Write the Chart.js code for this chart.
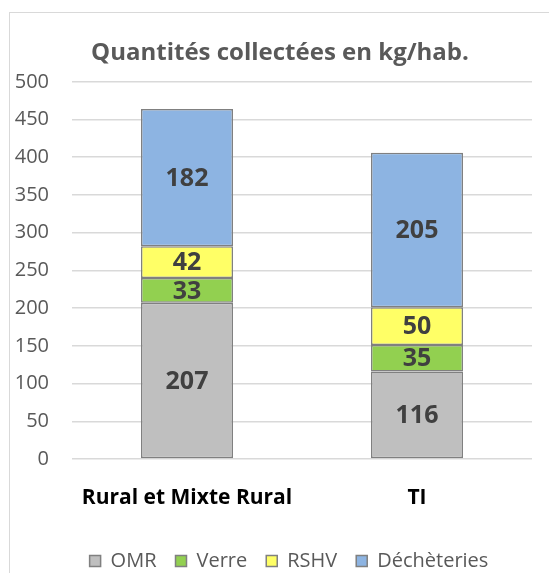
<!DOCTYPE html>
<html>
<head>
<meta charset="utf-8">
<script src="https://cdn.jsdelivr.net/npm/chart.js@4"></script>
<style>
  html, body { margin: 0; padding: 0; background: #fff; }
  #wrap { position: relative; width: 549px; height: 573px; overflow: hidden; }
  #frame { position: absolute; left: 9px; top: 12px; width: 600px; height: 600px;
           border-left: 1.5px solid #d9d9d9; border-top: 1.5px solid #d9d9d9; }
  canvas { position: absolute; left: 0; top: 0; }
</style>
</head>
<body>
<div id="wrap">
  <div id="frame"></div>
  <canvas id="chart" width="549" height="573"></canvas>
</div>
<script>
/* Quantités collectées en kg/hab. — stacked bars */
const categories = ['Rural et Mixte Rural', 'TI'];
const omr = [207, 116];
const verre = [33, 35];
const rshv = [42, 50];
const decheteries = [182, 205];
const yTicks = [0, 50, 100, 150, 200, 250, 300, 350, 400, 450, 500];

const FONT = '"Open Sans", "Noto Sans", sans-serif';
const EDGE = '#808080';

// labels drawn in the middle of each segment
const segLabels = {
  id: 'segLabels',
  afterDatasetsDraw(chart) {
    const ctx = chart.ctx;
    ctx.save();
    ctx.font = 'bold 25px ' + FONT;
    ctx.fillStyle = '#404040';
    ctx.textAlign = 'center';
    ctx.textBaseline = 'middle';
    chart.data.datasets.forEach((ds, i) => {
      chart.getDatasetMeta(i).data.forEach((bar, j) => {
        const p = bar.getProps(['x', 'y', 'base'], true);
        ctx.fillText(String(ds.data[j]), p.x, (p.y + p.base) / 2 + 1);
      });
    });
    ctx.restore();
  }
};

// title / legend are centred on the whole frame, not on the plot
const frameLayout = {
  id: 'frameLayout',
  beforeLayout(chart) {
    const lg = chart.legend;
    if (lg && !lg._fixed) {
      const fit = lg.fit.bind(lg);
      lg.fit = function () { fit(); this.height = 41; };
      lg._fixed = true;
    }
  },
  afterLayout(chart) {
    if (chart.titleBlock) { chart.titleBlock.left = 11; chart.titleBlock.right = 549; }
    if (chart.legend) { chart.legend.left = 29; chart.legend.right = 549; }
  }
};

function ds(label, data, color) {
  return { label, data, backgroundColor: color, borderColor: EDGE, borderWidth: 1.5,
           borderSkipped: false, barPercentage: 0.4, categoryPercentage: 1 };
}

new Chart(document.getElementById('chart').getContext('2d'), {
  type: 'bar',
  data: {
    labels: categories,
    datasets: [
      ds('OMR', omr, '#BFBFBF'),
      ds('Verre', verre, '#92D050'),
      ds('RSHV', rshv, '#FFFF66'),
      ds('Déchèteries', decheteries, '#8DB4E2')
    ]
  },
  plugins: [segLabels, frameLayout],
  options: {
    responsive: false, animation: false,
    layout: { padding: { left: 0, right: 17, top: 0, bottom: 0 } },
    plugins: {
      title: { display: true, text: 'Quantités collectées en kg/hab.', color: '#595959',
               font: { family: FONT, size: 24, weight: 'bold' }, padding: { top: 39, bottom: 14 } },
      legend: { position: 'bottom',
                labels: { color: '#595959', font: { family: FONT, size: 20 },
                          boxWidth: 11, boxHeight: 11, padding: 19 } },
      tooltip: { enabled: false }
    },
    scales: {
      x: { stacked: true,
           grid: { display: false, drawTicks: false },
           border: { display: false },
           ticks: { color: '#000', padding: 26, font: { family: FONT, size: 21, weight: 'bold' } },
           afterFit: s => { s.height = 73; } },
      y: { stacked: true, min: 0, max: 500,
           afterBuildTicks: s => { s.ticks = yTicks.map(v => ({ value: v })); },
           grid: { color: '#d9d9d9', lineWidth: 1.5, drawTicks: false },
           border: { display: false },
           ticks: { color: '#595959', padding: 23, font: { family: FONT, size: 20 } },
           afterFit: s => { s.width = 72; } }
    }
  }
});
</script>
</body>
</html>
